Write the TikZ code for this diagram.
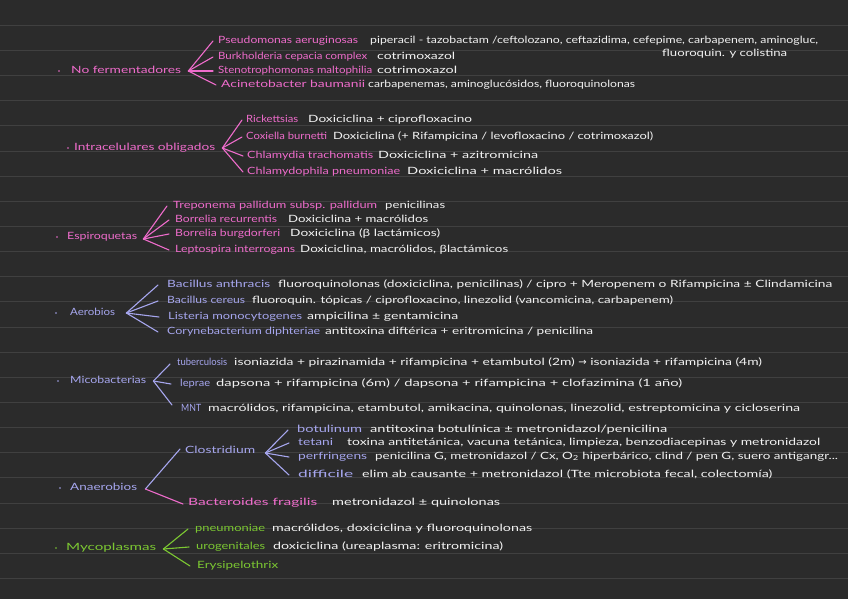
\documentclass[tikz,border=0pt]{standalone}
\usepackage{fontspec}
\newfontfamily\hand{Lato}
\newfontfamily\symf{DejaVu Sans}
\definecolor{bgc}{HTML}{2B2B2B}
\definecolor{rulec}{HTML}{404040}
\definecolor{pinkc}{HTML}{EE6CCB}
\definecolor{lavc}{HTML}{A6A6EE}
\definecolor{greenc}{HTML}{7CC832}
\definecolor{whitec}{HTML}{F2F2F2}
\newsavebox\fitbox
\newcommand\fitw[2]{\sbox\fitbox{#2}\edef\fitr{\fpeval{round(#1/\wd\fitbox,3)}}{\addfontfeatures{FakeStretch=\fitr}#2}}
\begin{document}
\begin{tikzpicture}[x=1pt,y=-1pt,
  lbl/.style={anchor=west,inner sep=0pt,font=\hand\fontsize{10}{12}\selectfont,text height=6.5pt,text depth=2pt},
  pk/.style={lbl,text=pinkc},
  lv/.style={lbl,text=lavc},
  gr/.style={lbl,text=greenc},
  wt/.style={lbl,text=whitec},
  bul/.style={circle,inner sep=0pt,minimum size=1.6pt},
  fan/.style={line width=1.1pt,line cap=round},
  rule/.style={rulec,line width=0.8pt}]
\useasboundingbox (0,0) rectangle (848,599);
\fill[bgc] (0,0) rectangle (848,599);
\foreach \k in {1,...,23} \draw[rule] (0,25.15*\k) -- (848,25.15*\k);

% ---------- No fermentadores ----------
\node[bul,fill=pinkc] (b1) at (59,71) {};
\node[pk] (nf) at (71,71) {\fitw{110}{No fermentadores}};
\coordinate (nfA) at ([xshift=7pt]nf.east);
\node[pk] (pa) at (218,41) {\fitw{140}{Pseudomonas aeruginosas}};
\node[wt] (pat) at (370,41) {\fitw{448}{piperacil - tazobactam /ceftolozano, ceftazidima, cefepime, carbapenem, aminogluc,}};
\node[wt] (pat2) at (662,54) {\fitw{125}{fluoroquin. y colistina}};
\node[pk] (bc) at (218,57) {\fitw{149}{Burkholderia cepacia complex}};
\node[wt] (bct) at (377,57) {\fitw{78}{cotrimoxazol}};
\node[pk] (sm) at (218,71) {\fitw{154}{Stenotrophomonas maltophilia}};
\node[wt] (smt) at (377,71) {\fitw{80}{cotrimoxazol}};
\node[pk] (ab) at (221,85) {\fitw{144}{Acinetobacter baumanii}};
\node[wt] (abt) at (368,85) {\fitw{267}{carbapenemas, aminoglucósidos, fluoroquinolonas}};
\foreach \c in {pa,bc,sm,ab} \draw[fan,pinkc] (nfA) -- ([xshift=-5pt]\c.west);

% ---------- Intracelulares obligados ----------
\node[bul,fill=pinkc] (b2) at (68,148) {};
\node[pk] (io) at (74,148) {\fitw{141}{Intracelulares obligados}};
\coordinate (ioA) at ([xshift=7pt]io.east);
\node[pk] (rk) at (246,120) {\fitw{52}{Rickettsias}};
\node[wt] (rkt) at (308,120) {\fitw{164}{Doxiciclina + ciprofloxacino}};
\node[pk] (cb) at (246,137) {\fitw{81}{Coxiella burnetti}};
\node[wt] (cbt) at (333,137) {\fitw{320}{Doxiciclina (+ Rifampicina / levofloxacino / cotrimoxazol)}};
\node[pk] (ct) at (247,156) {\fitw{126}{Chlamydia trachomatis}};
\node[wt] (ctt) at (378,156) {\fitw{160}{Doxiciclina + azitromicina}};
\node[pk] (cp) at (247,172) {\fitw{153}{Chlamydophila pneumoniae}};
\node[wt] (cpt) at (407,172) {\fitw{155}{Doxiciclina + macrólidos}};
\foreach \c in {rk,cb,ct,cp} \draw[fan,pinkc] (ioA) -- ([xshift=-4pt]\c.west);

% ---------- Espiroquetas ----------
\node[bul,fill=pinkc] (b3) at (57,237) {};
\node[pk] (es) at (67,237) {\fitw{70}{Espiroquetas}};
\coordinate (esA) at ([xshift=6pt,yshift=-2pt]es.east);
\node[pk] (tp) at (173,206) {\fitw{204}{Treponema pallidum subsp. pallidum}};
\node[wt] (tpt) at (385,206) {\fitw{60}{penicilinas}};
\node[pk] (br) at (175,220) {\fitw{102}{Borrelia recurrentis}};
\node[wt] (brt) at (288,220) {\fitw{140}{Doxiciclina + macrólidos}};
\node[pk] (bb) at (175,234) {\fitw{105}{Borrelia burgdorferi}};
\node[wt] (bbt) at (290,234) {\fitw{150}{Doxiciclina (β lactámicos)}};
\node[pk] (li) at (175,250) {\fitw{120}{Leptospira interrogans}};
\node[wt] (lit) at (300,250) {\fitw{208}{Doxiciclina, macrólidos, βlactámicos}};
\foreach \c in {tp,br,bb,li} \draw[fan,pinkc] (esA) -- ([xshift=-6pt]\c.west);

% ---------- Aerobios ----------
\node[bul,fill=lavc] (b4) at (56,313) {};
\node[lv] (ae) at (70,313) {\fitw{45}{Aerobios}};
\coordinate (aeA) at ([xshift=11pt]ae.east);
\node[lv] (ba) at (167,285) {\fitw{103}{Bacillus anthracis}};
\node[wt] (bat) at (278,285) {\fitw{554}{fluoroquinolonas (doxiciclina, penicilinas) / cipro + Meropenem o Rifampicina ± Clindamicina}};
\node[lv] (bce) at (167,301) {\fitw{78}{Bacillus cereus}};
\node[wt] (bcet) at (252,301) {\fitw{421}{fluoroquin. tópicas / ciprofloxacino, linezolid (vancomicina, carbapenem)}};
\node[lv] (lm) at (168,317) {\fitw{134}{Listeria monocytogenes}};
\node[wt] (lmt) at (307,317) {\fitw{151}{ampicilina ± gentamicina}};
\node[lv] (cd) at (167,332) {\fitw{153}{Corynebacterium diphteriae}};
\node[wt] (cdt) at (325,332) {\fitw{268}{antitoxina diftérica + eritromicina / penicilina}};
\foreach \c in {ba,bce,lm,cd} \draw[fan,lavc] (aeA) -- ([xshift=-9pt]\c.west);

% ---------- Micobacterias ----------
\node[bul,fill=lavc] (b5) at (58,381) {};
\node[lv] (mi) at (70,381) {\fitw{76}{Micobacterias}};
\coordinate (miA) at ([xshift=7pt]mi.east);
\node[lv] (tb) at (177,363) {\fitw{50}{tuberculosis}};
\node[wt] (tbt) at (234,363) {\fitw{531}{isoniazida + pirazinamida + rifampicina + etambutol (2m) {\symf →} isoniazida + rifampicina (4m)}};
\node[lv] (lp) at (180,384) {\fitw{30}{leprae}};
\node[wt] (lpt) at (216,384) {\fitw{466}{dapsona + rifampicina (6m) / dapsona + rifampicina + clofazimina (1 año)}};
\node[lv] (mnt) at (181,409) {\fitw{20}{MNT}};
\node[wt] (mntt) at (208,409) {\fitw{592}{macrólidos, rifampicina, etambutol, amikacina, quinolonas, linezolid, estreptomicina y cicloserina}};
\draw[fan,lavc] (miA) -- ([xshift=-7pt,yshift=-1pt]tb.west);
\draw[fan,lavc] (miA) -- ([xshift=-9pt]lp.west);
\draw[fan,lavc] (miA) -- ([xshift=-9pt,yshift=4pt]mnt.west);

% ---------- Anaerobios ----------
\node[bul,fill=lavc] (b6) at (60,488) {};
\node[lv] (an) at (70,488) {\fitw{67}{Anaerobios}};
\coordinate (anA) at ([xshift=8pt,yshift=-1pt]an.east);
\node[lv] (cl) at (185,451) {\fitw{70}{Clostridium}};
\coordinate (clA) at ([xshift=10pt,yshift=-2pt]cl.east);
\node[lv] (bo) at (297,430) {\fitw{65}{botulinum}};
\node[wt] (bot) at (370,430) {\fitw{297}{antitoxina botulínica ± metronidazol/penicilina}};
\node[lv] (te) at (298,443) {\fitw{35}{tetani}};
\node[wt] (tet) at (347,443) {\fitw{473}{toxina antitetánica, vacuna tetánica, limpieza, benzodiacepinas y metronidazol}};
\node[lv] (pf) at (298,457) {\fitw{69}{perfringens}};
\node[wt] (pft) at (375,457) {\fitw{463}{penicilina G, metronidazol / Cx, O\textsubscript{2} hiperbárico, clind / pen G, suero antigangr...}};
\node[lv] (df) at (298,475) {\fitw{55}{difficile}};
\node[wt] (dft) at (362,475) {\fitw{410}{elim ab causante + metronidazol (Tte microbiota fecal, colectomía)}};
\node[pk] (bf) at (188,503) {\fitw{129}{Bacteroides fragilis}};
\node[wt] (bft) at (332,503) {\fitw{168}{metronidazol ± quinolonas}};
\draw[fan,lavc] (anA) -- ([xshift=-5pt,yshift=2pt]cl.west);
\draw[fan,pinkc] (anA) -- ([xshift=-5pt,yshift=-1pt]bf.west);
\foreach \c in {bo,te,pf,df} \draw[fan,lavc] (clA) -- ([xshift=-9pt]\c.west);

% ---------- Mycoplasmas ----------
\node[bul,fill=greenc] (b7) at (56,548) {};
\node[gr] (my) at (66,548) {\fitw{90}{Mycoplasmas}};
\coordinate (myA) at ([xshift=7pt,yshift=-1pt]my.east);
\node[gr] (pn) at (195,529) {\fitw{70}{pneumoniae}};
\node[wt] (pnt) at (272,529) {\fitw{260}{macrólidos, doxiciclina y fluoroquinolonas}};
\node[gr] (ug) at (196,547) {\fitw{69}{urogenitales}};
\node[wt] (ugt) at (273,547) {\fitw{230}{doxiciclina (ureaplasma: eritromicina)}};
\node[gr] (er) at (197,566) {\fitw{81}{Erysipelothrix}};
\foreach \c in {pn,ug,er} \draw[fan,greenc] (myA) -- ([xshift=-7pt]\c.west);
\end{tikzpicture}
\end{document}
